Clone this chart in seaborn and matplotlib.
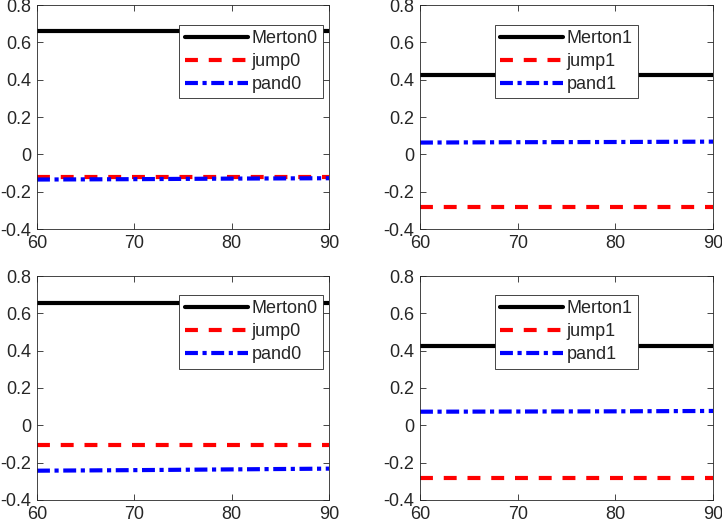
import matplotlib
matplotlib.use('Agg')

import numpy as np
import pandas as pd
import matplotlib.pyplot as plt
import seaborn as sns

# values (x from 60 to 90)
x = [60, 70, 80, 90]

merton0_a = [0.659, 0.659, 0.659, 0.659]
jump0_a = [-0.123, -0.123, -0.123, -0.123]
pand0_a = [-0.135, -0.133, -0.130, -0.128]

merton1_a = [0.423, 0.423, 0.423, 0.423]
jump1_a = [-0.284, -0.284, -0.284, -0.284]
pand1_a = [0.063, 0.065, 0.066, 0.068]

merton0_b = [0.657, 0.657, 0.657, 0.657]
jump0_b = [-0.107, -0.107, -0.107, -0.107]
pand0_b = [-0.243, -0.240, -0.236, -0.232]

merton1_b = [0.425, 0.425, 0.425, 0.425]
jump1_b = [-0.284, -0.284, -0.284, -0.284]
pand1_b = [0.073, 0.074, 0.075, 0.077]

panels = [
    (merton0_a, jump0_a, pand0_a, '0'),
    (merton1_a, jump1_a, pand1_a, '1'),
    (merton0_b, jump0_b, pand0_b, '0'),
    (merton1_b, jump1_b, pand1_b, '1'),
]

sns.set_style('ticks')
plt.rcParams['font.family'] = ['Liberation Sans', 'DejaVu Sans']
plt.rcParams['axes.edgecolor'] = '#262626'
plt.rcParams['xtick.color'] = '#262626'
plt.rcParams['ytick.color'] = '#262626'

fig = plt.figure(figsize=(7.22, 5.26), dpi=100)
# axes boxes in pixels: left, top, right, bottom
boxes = [(37, 5, 329, 229), (420, 5, 713, 229),
         (37, 276, 329, 500), (420, 276, 713, 500)]
W, H = 722, 526
legend_locs = [(0.98, 0.912), (0.745, 0.912), (0.98, 0.915), (0.745, 0.915)]

for (m, j, p, tag), (l, t, r, b), lloc in zip(panels, boxes, legend_locs):
    ax = fig.add_axes([l / W, 1 - b / H, (r - l) / W, (b - t) / H])
    df = pd.DataFrame({'x': x, 'Merton' + tag: m, 'jump' + tag: j, 'pand' + tag: p})
    sns.lineplot(data=df, x='x', y='Merton' + tag, ax=ax, color='black',
                 lw=3, label='Merton' + tag)
    sns.lineplot(data=df, x='x', y='jump' + tag, ax=ax, color='red',
                 lw=3, label='jump' + tag)
    sns.lineplot(data=df, x='x', y='pand' + tag, ax=ax, color='blue',
                 lw=3, label='pand' + tag)
    ax.lines[1].set_dashes([3.1, 2.6])
    ax.lines[2].set_dashes([3.1, 1.1, 1.0, 1.1])
    ax.set_xlim(60, 90)
    ax.set_ylim(-0.4, 0.8)
    ax.set_xticks([60, 70, 80, 90])
    ax.set_yticks([-0.4, -0.2, 0, 0.2, 0.4, 0.6, 0.8])
    ax.set_yticklabels(['-0.4', '-0.2', '0', '0.2', '0.4', '0.6', '0.8'])
    ax.set_xlabel('')
    ax.set_ylabel('')
    ax.tick_params(direction='in', top=True, right=True, labelsize=13,
                   length=4, width=0.6, pad=4)
    for s in ax.spines.values():
        s.set_visible(True)
        s.set_linewidth(0.6)
    leg = ax.legend(loc='upper right', bbox_to_anchor=lloc, fontsize=13,
                    frameon=True, fancybox=False, framealpha=1,
                    edgecolor='#262626', handlelength=3.5, handletextpad=0.2,
                    borderpad=0.3, labelspacing=0.33, borderaxespad=0)
    leg.get_frame().set_linewidth(0.6)

fig.savefig('out.png', dpi=100)
